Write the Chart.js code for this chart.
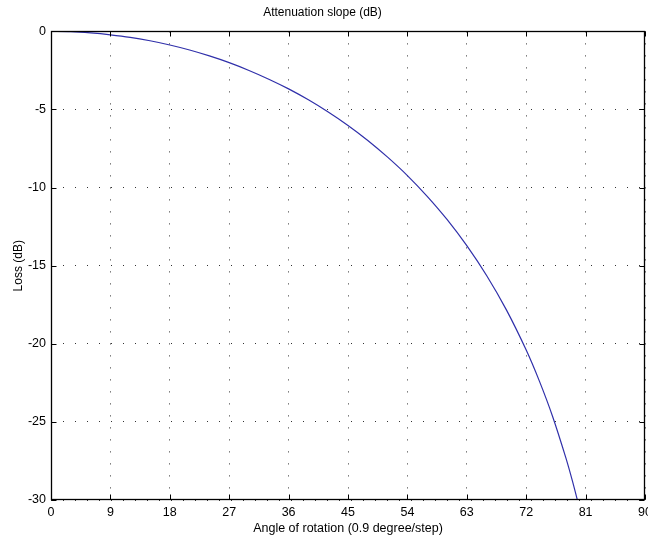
<!DOCTYPE html>
<html>
<head>
<meta charset="utf-8">
<script src="https://cdn.jsdelivr.net/npm/chart.js@4/dist/chart.umd.min.js"></script>
<style>
html,body{margin:0;padding:0;background:#fff;overflow:hidden;}
#wrap{width:648px;height:539px;position:relative;}
canvas{display:block;}
</style>
</head>
<body>
<div id="wrap"><canvas id="c" width="648" height="539"></canvas></div>
<script>
const chartTitle = 'Attenuation slope (dB)';
const xAxisLabel = 'Angle of rotation (0.9 degree/step)';
const yAxisLabel = 'Loss (dB)';
const xTickValues = [0, 9, 18, 27, 36, 45, 54, 63, 72, 81, 90];
const yTickValues = [0, -5, -10, -15, -20, -25, -30];
const stepValues = [0, 3, 6, 9, 12, 15, 18, 21, 24, 27, 30, 33, 36, 39, 42, 45, 48, 51, 54, 57, 60, 63, 66, 69, 72, 74, 76, 78, 79, 80];
const lossValues = [0, -0.02, -0.10, -0.22, -0.38, -0.60, -0.87, -1.19, -1.57, -2.00, -2.50, -3.06, -3.68, -4.38, -5.16, -6.02, -6.98, -8.05, -9.23, -10.56, -12.04, -13.72, -15.63, -17.83, -20.40, -22.39, -24.65, -27.29, -28.78, -30.41];

const FONT = 'Arial, "Liberation Sans", Helvetica, sans-serif';

const boxPlugin = {
  id: 'matlabBox',
  afterDatasetsDraw(chart) {
    const {ctx, chartArea: a, scales: {x, y}} = chart;
    ctx.save();
    ctx.strokeStyle = '#000';
    ctx.lineWidth = 1;
    ctx.setLineDash([]);
    const L = Math.round(a.left) + 0.5, R = Math.round(a.right) - 0.5;
    const T = Math.round(a.top) + 0.5, B = Math.round(a.bottom) - 0.5;
    ctx.beginPath();
    xTickValues.forEach(v => {
      const px = Math.round(x.getPixelForValue(v)) + 0.5;
      ctx.moveTo(px, B); ctx.lineTo(px, B - 5);
      ctx.moveTo(px, T); ctx.lineTo(px, T + 5);
    });
    yTickValues.forEach(v => {
      const py = Math.round(y.getPixelForValue(v)) + 0.5;
      ctx.moveTo(L, py); ctx.lineTo(L + 5, py);
      ctx.moveTo(R, py); ctx.lineTo(R - 5, py);
    });
    ctx.stroke();
    ctx.lineWidth = 1.3;
    ctx.strokeRect(L, T, R - L, B - T);
    ctx.restore();
  }
};

new Chart(document.getElementById('c'), {
  type: 'line',
  data: {
    datasets: [{
      data: stepValues.map((s, i) => ({x: s, y: lossValues[i]})),
      borderColor: '#3030aa',
      borderWidth: 1.2,
      pointRadius: 0,
      tension: 0.3,
      fill: false
    }]
  },
  options: {
    responsive: false,
    animation: false,
    devicePixelRatio: 1,
    layout: {padding: {left: 0, right: 3, top: 0, bottom: 0}},
    plugins: {
      legend: {display: false},
      tooltip: {enabled: false},
      title: {
        display: true,
        text: chartTitle,
        color: '#000',
        font: {family: FONT, size: 12, weight: 'normal'},
        padding: {top: 5, bottom: 12}
      }
    },
    scales: {
      x: {
        type: 'linear',
        min: 0, max: 90,
        afterBuildTicks(scale) { scale.ticks = xTickValues.map(v => ({value: v})); },
        afterFit(scale) { scale.height = 39; scale.paddingLeft = 0; scale.paddingRight = 0; },
        ticks: {color: '#000', font: {family: FONT, size: 12.5}, padding: 5, maxRotation: 0, autoSkip: false},
        grid: {color: '#333', lineWidth: 1, drawTicks: false, tickLength: 0},
        border: {display: false, dash: [1, 11]},
        title: {display: true, text: xAxisLabel, color: '#000', font: {family: FONT, size: 12.5}, padding: {top: 0, bottom: 3}}
      },
      y: {
        type: 'linear',
        min: -30, max: 0,
        afterBuildTicks(scale) { scale.ticks = yTickValues.map(v => ({value: v})); },
        afterFit(scale) { scale.width = 51; scale.paddingTop = 0; scale.paddingBottom = 0; },
        ticks: {color: '#000', font: {family: FONT, size: 12.5}, padding: 5, autoSkip: false},
        grid: {color: '#333', lineWidth: 1, drawTicks: false, tickLength: 0},
        border: {display: false, dash: [1, 11]},
        title: {display: true, text: yAxisLabel, color: '#000', font: {family: FONT, size: 12}, padding: {top: 11, bottom: 0}}
      }
    }
  },
  plugins: [boxPlugin]
});
</script>
</body>
</html>
